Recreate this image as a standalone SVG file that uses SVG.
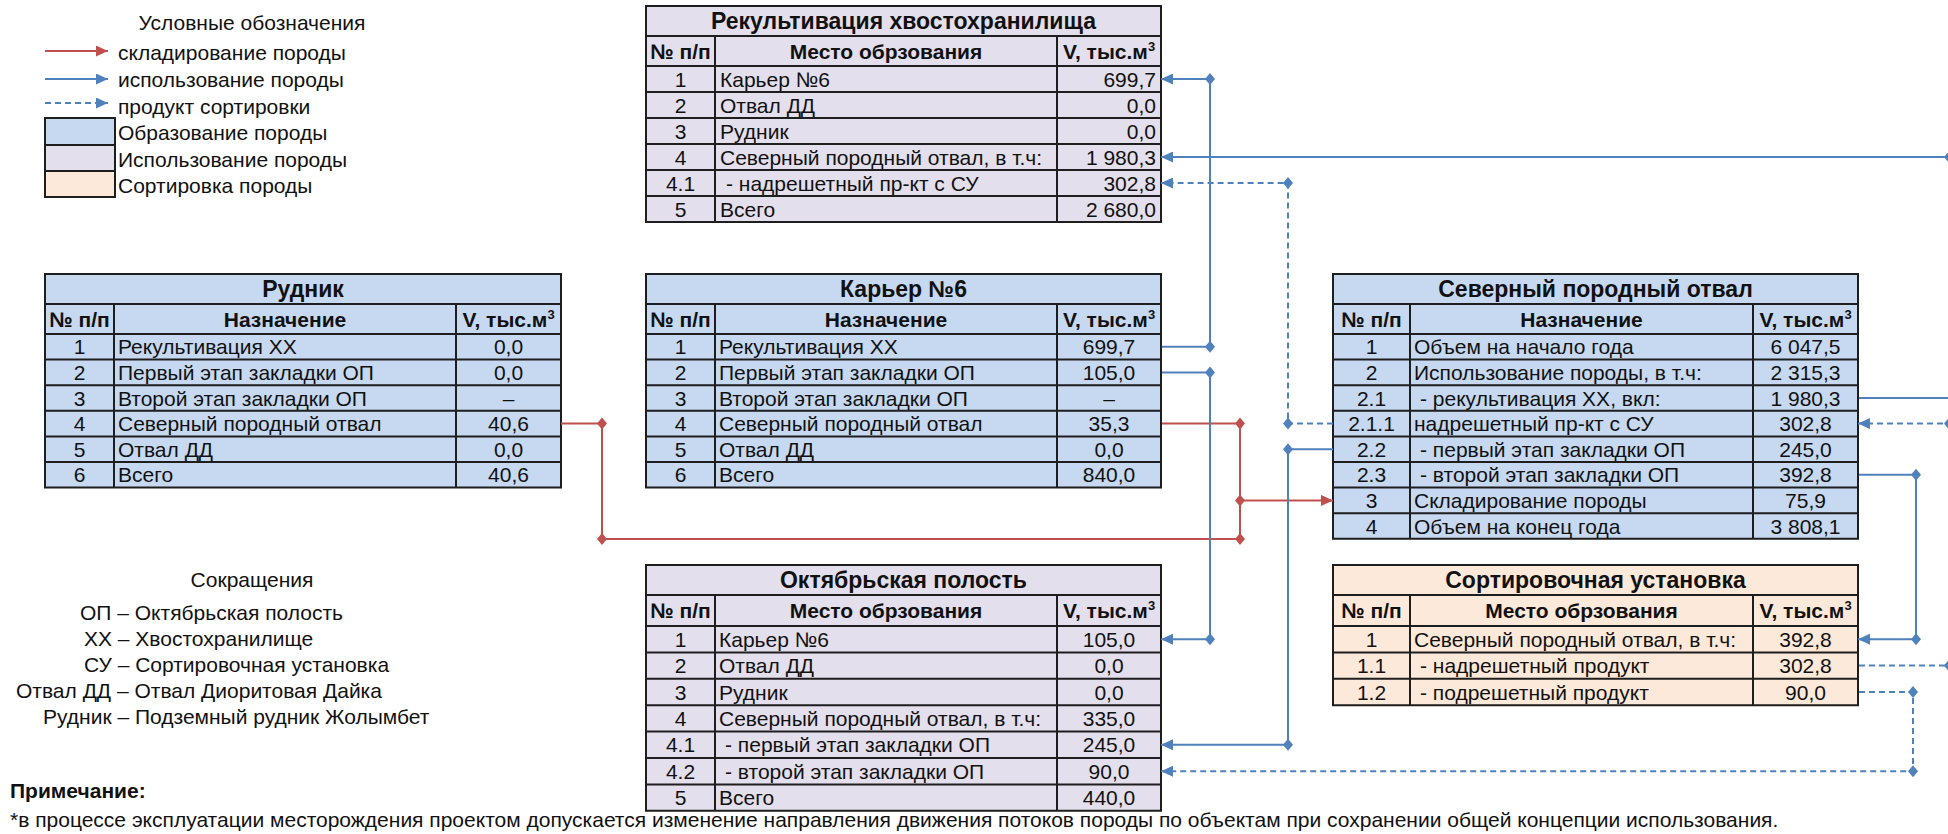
<svg xmlns="http://www.w3.org/2000/svg" xmlns:xlink="http://www.w3.org/1999/xlink" width="1948" height="834" viewBox="0 0 1948 834">
<style>
.t{font-family:"Liberation Sans",Arial,sans-serif;font-size:21px;fill:#111}
.b{font-weight:bold}
.c{text-anchor:middle}
.r{text-anchor:end}
.ttl{font-size:23px}
.grid{stroke:#1e1e1e;stroke-width:2;fill:none}
.blue{fill:#C6D9F1}
.lav{fill:#E4DFEC}
.peach{fill:#FDE9D9}
.cb{stroke:#4F81BD;stroke-width:2;fill:none}
.cr{stroke:#C0504D;stroke-width:2;fill:none}
.dash{stroke-dasharray:6 4}
.sup{font-size:13px}
</style>
<defs>
<marker id="aB" viewBox="0 0 12 11" refX="12" refY="5.5" markerWidth="12" markerHeight="11" orient="auto" markerUnits="userSpaceOnUse"><path d="M0,0 L12,5.5 L0,11 Z" fill="#4F81BD"/></marker>
<marker id="aR" viewBox="0 0 12 11" refX="12" refY="5.5" markerWidth="12" markerHeight="11" orient="auto" markerUnits="userSpaceOnUse"><path d="M0,0 L12,5.5 L0,11 Z" fill="#C0504D"/></marker>
<path id="dB" d="M0,-6 L5,0 L0,6 L-5,0 Z" fill="#4F81BD"/>
<path id="dR" d="M0,-6 L5,0 L0,6 L-5,0 Z" fill="#C0504D"/>
</defs>
<rect width="1948" height="834" fill="#fff"/>

<g id="legend" class="t">
<text class="c" x="252" y="30">Условные обозначения</text>
<line class="cr" x1="45" y1="51" x2="108" y2="51" marker-end="url(#aR)"/>
<line class="cb" x1="45" y1="79" x2="108" y2="79" marker-end="url(#aB)"/>
<line class="cb dash" x1="45" y1="103" x2="108" y2="103" marker-end="url(#aB)"/>
<text x="118" y="60">складирование породы</text>
<text x="118" y="87">использование породы</text>
<text x="118" y="114">продукт сортировки</text>
<rect class="blue" x="45" y="118" width="70" height="27" stroke="#1e1e1e" stroke-width="2"/>
<rect class="lav" x="45" y="145" width="70" height="26" stroke="#1e1e1e" stroke-width="2"/>
<rect class="peach" x="45" y="171" width="70" height="26" stroke="#1e1e1e" stroke-width="2"/>
<text x="118" y="140">Образование породы</text>
<text x="118" y="167">Использование породы</text>
<text x="118" y="193">Сортировка породы</text>
</g>

<g id="abbrev" class="t">
<text class="c" x="252" y="587">Сокращения</text>
<text x="80" y="620">ОП – Октябрьская полость</text>
<text x="84" y="646">ХХ – Хвостохранилище</text>
<text x="84" y="672">СУ – Сортировочная установка</text>
<text x="16" y="698">Отвал ДД – Отвал Диоритовая Дайка</text>
<text x="43" y="724">Рудник – Подземный рудник Жолымбет</text>
</g>

<g id="note" class="t">
<text class="b" x="10" y="798">Примечание:</text>
<text x="10" y="827">*в процессе эксплуатации месторождения проектом допускается изменение направления движения потоков породы по объектам при сохранении общей концепции использования.</text>
</g>

<g id="t-rekult" class="t">
<rect class="lav" x="646" y="6" width="515" height="216"/>
<path class="grid" d="M646,6H1161V222H646Z M646,36H1161 M646,66H1161 M646,92H1161 M646,118H1161 M646,144H1161 M646,170H1161 M646,196H1161 M715,36V222 M1057,36V222"/>
<text class="b c ttl" x="903.5" y="29">Рекультивация хвостохранилища</text>
<text class="b c" x="680.5" y="58.5">№ п/п</text>
<text class="b c" x="886" y="58.5">Место обрзования</text>
<text class="b c" x="1109" y="58.5">V, тыс.м<tspan class="sup" dy="-8">3</tspan></text>
<g class="c"><text x="680.5" y="86.5">1</text><text x="680.5" y="112.5">2</text><text x="680.5" y="138.5">3</text><text x="680.5" y="164.5">4</text><text x="680.5" y="190.5">4.1</text><text x="680.5" y="216.5">5</text></g>
<text x="720" y="86.5">Карьер №6</text>
<text x="720" y="112.5">Отвал ДД</text>
<text x="720" y="138.5">Рудник</text>
<text x="720" y="164.5">Северный породный отвал, в т.ч:</text>
<text x="726" y="190.5">- надрешетный пр-кт с СУ</text>
<text x="720" y="216.5">Всего</text>
<g class="r"><text x="1156" y="86.5">699,7</text><text x="1156" y="112.5">0,0</text><text x="1156" y="138.5">0,0</text><text x="1156" y="164.5">1 980,3</text><text x="1156" y="190.5">302,8</text><text x="1156" y="216.5">2 680,0</text></g>
</g>

<g id="t-rudnik" class="t">
<rect class="blue" x="45" y="274" width="516" height="213.6"/>
<path class="grid" d="M45,274H561V487.6H45Z M45,304H561 M45,334H561 M45,359.6H561 M45,385.2H561 M45,410.8H561 M45,436.4H561 M45,462H561 M114,304V487.6 M456,304V487.6"/>
<text class="b c ttl" x="303" y="297">Рудник</text>
<text class="b c" x="79.5" y="326.5">№ п/п</text>
<text class="b c" x="285" y="326.5">Назначение</text>
<text class="b c" x="508.5" y="326.5">V, тыс.м<tspan class="sup" dy="-8">3</tspan></text>
<g class="c"><text x="79.5" y="354.3">1</text><text x="79.5" y="379.9">2</text><text x="79.5" y="405.5">3</text><text x="79.5" y="431.1">4</text><text x="79.5" y="456.7">5</text><text x="79.5" y="482.3">6</text></g>
<text x="118" y="354.3">Рекультивация ХХ</text>
<text x="118" y="379.9">Первый этап закладки ОП</text>
<text x="118" y="405.5">Второй этап закладки ОП</text>
<text x="118" y="431.1">Северный породный отвал</text>
<text x="118" y="456.7">Отвал ДД</text>
<text x="118" y="482.3">Всего</text>
<g class="c"><text x="508.5" y="354.3">0,0</text><text x="508.5" y="379.9">0,0</text><text x="508.5" y="405.5">–</text><text x="508.5" y="431.1">40,6</text><text x="508.5" y="456.7">0,0</text><text x="508.5" y="482.3">40,6</text></g>
</g>

<g id="t-karier" class="t">
<rect class="blue" x="646" y="274" width="515" height="213.6"/>
<path class="grid" d="M646,274H1161V487.6H646Z M646,304H1161 M646,334H1161 M646,359.6H1161 M646,385.2H1161 M646,410.8H1161 M646,436.4H1161 M646,462H1161 M715,304V487.6 M1057,304V487.6"/>
<text class="b c ttl" x="903.5" y="297">Карьер №6</text>
<text class="b c" x="680.5" y="326.5">№ п/п</text>
<text class="b c" x="886" y="326.5">Назначение</text>
<text class="b c" x="1109" y="326.5">V, тыс.м<tspan class="sup" dy="-8">3</tspan></text>
<g class="c"><text x="680.5" y="354.3">1</text><text x="680.5" y="379.9">2</text><text x="680.5" y="405.5">3</text><text x="680.5" y="431.1">4</text><text x="680.5" y="456.7">5</text><text x="680.5" y="482.3">6</text></g>
<text x="719" y="354.3">Рекультивация ХХ</text>
<text x="719" y="379.9">Первый этап закладки ОП</text>
<text x="719" y="405.5">Второй этап закладки ОП</text>
<text x="719" y="431.1">Северный породный отвал</text>
<text x="719" y="456.7">Отвал ДД</text>
<text x="719" y="482.3">Всего</text>
<g class="c"><text x="1109" y="354.3">699,7</text><text x="1109" y="379.9">105,0</text><text x="1109" y="405.5">–</text><text x="1109" y="431.1">35,3</text><text x="1109" y="456.7">0,0</text><text x="1109" y="482.3">840,0</text></g>
</g>

<g id="t-sever" class="t">
<rect class="blue" x="1333" y="274" width="525" height="264.8"/>
<path class="grid" d="M1333,274H1858V538.8H1333Z M1333,304H1858 M1333,334H1858 M1333,359.6H1858 M1333,385.2H1858 M1333,410.8H1858 M1333,436.4H1858 M1333,462H1858 M1333,487.6H1858 M1333,513.2H1858 M1410,304V538.8 M1753,304V538.8"/>
<text class="b c ttl" x="1595.5" y="297">Северный породный отвал</text>
<text class="b c" x="1371.5" y="326.5">№ п/п</text>
<text class="b c" x="1581.5" y="326.5">Назначение</text>
<text class="b c" x="1805.5" y="326.5">V, тыс.м<tspan class="sup" dy="-8">3</tspan></text>
<g class="c"><text x="1371.5" y="354.3">1</text><text x="1371.5" y="379.9">2</text><text x="1371.5" y="405.5">2.1</text><text x="1371.5" y="431.1">2.1.1</text><text x="1371.5" y="456.7">2.2</text><text x="1371.5" y="482.3">2.3</text><text x="1371.5" y="507.9">3</text><text x="1371.5" y="533.5">4</text></g>
<text x="1414" y="354.3">Объем на начало года</text>
<text x="1414" y="379.9">Использование породы, в т.ч:</text>
<text x="1420" y="405.5">- рекультивация ХХ, вкл:</text>
<text x="1414" y="431.1">надрешетный пр-кт с СУ</text>
<text x="1420" y="456.7">- первый этап закладки ОП</text>
<text x="1420" y="482.3">- второй этап закладки ОП</text>
<text x="1414" y="507.9">Складирование породы</text>
<text x="1414" y="533.5">Объем на конец года</text>
<g class="c"><text x="1805.5" y="354.3">6 047,5</text><text x="1805.5" y="379.9">2 315,3</text><text x="1805.5" y="405.5">1 980,3</text><text x="1805.5" y="431.1">302,8</text><text x="1805.5" y="456.7">245,0</text><text x="1805.5" y="482.3">392,8</text><text x="1805.5" y="507.9">75,9</text><text x="1805.5" y="533.5">3 808,1</text></g>
</g>

<g id="t-oktyabr" class="t">
<rect class="lav" x="646" y="565" width="515" height="245.8"/>
<path class="grid" d="M646,565H1161V810.8H646Z M646,595H1161 M646,626H1161 M646,652.4H1161 M646,678.8H1161 M646,705.2H1161 M646,731.6H1161 M646,758H1161 M646,784.4H1161 M715,595V810.8 M1057,595V810.8"/>
<text class="b c ttl" x="903.5" y="588">Октябрьская полость</text>
<text class="b c" x="680.5" y="618">№ п/п</text>
<text class="b c" x="886" y="618">Место обрзования</text>
<text class="b c" x="1109" y="618">V, тыс.м<tspan class="sup" dy="-8">3</tspan></text>
<g class="c"><text x="680.5" y="646.7">1</text><text x="680.5" y="673.1">2</text><text x="680.5" y="699.5">3</text><text x="680.5" y="725.9">4</text><text x="680.5" y="752.3">4.1</text><text x="680.5" y="778.7">4.2</text><text x="680.5" y="805.1">5</text></g>
<text x="719" y="646.7">Карьер №6</text>
<text x="719" y="673.1">Отвал ДД</text>
<text x="719" y="699.5">Рудник</text>
<text x="719" y="725.9">Северный породный отвал, в т.ч:</text>
<text x="725" y="752.3">- первый этап закладки ОП</text>
<text x="725" y="778.7">- второй этап закладки ОП</text>
<text x="719" y="805.1">Всего</text>
<g class="c"><text x="1109" y="646.7">105,0</text><text x="1109" y="673.1">0,0</text><text x="1109" y="699.5">0,0</text><text x="1109" y="725.9">335,0</text><text x="1109" y="752.3">245,0</text><text x="1109" y="778.7">90,0</text><text x="1109" y="805.1">440,0</text></g>
</g>

<g id="t-sort" class="t">
<rect class="peach" x="1333" y="565" width="525" height="140.2"/>
<path class="grid" d="M1333,565H1858V705.2H1333Z M1333,595H1858 M1333,626H1858 M1333,652.4H1858 M1333,678.8H1858 M1410,595V705.2 M1753,595V705.2"/>
<text class="b c ttl" x="1595.5" y="588">Сортировочная установка</text>
<text class="b c" x="1371.5" y="618">№ п/п</text>
<text class="b c" x="1581.5" y="618">Место обрзования</text>
<text class="b c" x="1805.5" y="618">V, тыс.м<tspan class="sup" dy="-8">3</tspan></text>
<g class="c"><text x="1371.5" y="646.7">1</text><text x="1371.5" y="673.1">1.1</text><text x="1371.5" y="699.5">1.2</text></g>
<text x="1414" y="646.7">Северный породный отвал, в т.ч:</text>
<text x="1420" y="673.1">- надрешетный продукт</text>
<text x="1420" y="699.5">- подрешетный продукт</text>
<g class="c"><text x="1805.5" y="646.7">392,8</text><text x="1805.5" y="673.1">302,8</text><text x="1805.5" y="699.5">90,0</text></g>
</g>

<g id="connectors">
<path class="cr" d="M561,423.6H602V539H1240"/>
<path class="cr" d="M1162,423.6H1240V539"/>
<path class="cr" d="M1240,500.4H1333" marker-end="url(#aR)"/>
<path class="cb" d="M1162,346.8H1210V79H1161" marker-end="url(#aB)"/>
<path class="cb" d="M1162,372.4H1210V639.2H1161" marker-end="url(#aB)"/>
<path class="cb" d="M1859,398H1955V157H1161" marker-end="url(#aB)"/>
<path class="cb" d="M1333,449.2H1288V744.8H1161" marker-end="url(#aB)"/>
<path class="cb" d="M1859,474.8H1916V639.2H1858" marker-end="url(#aB)"/>
<path class="cb dash" d="M1333,423.6H1288V183H1161" marker-end="url(#aB)"/>
<path class="cb dash" d="M1859,665.6H1955V423.6H1858" marker-end="url(#aB)"/>
<path class="cb dash" d="M1859,692H1913V771.2H1161" marker-end="url(#aB)"/>
<use xlink:href="#dR" x="602" y="423.6"/>
<use xlink:href="#dR" x="602" y="539"/>
<use xlink:href="#dR" x="1240" y="539"/>
<use xlink:href="#dR" x="1240" y="423.6"/>
<use xlink:href="#dR" x="1240" y="500.4"/>
<use xlink:href="#dB" x="1210" y="346.8"/>
<use xlink:href="#dB" x="1210" y="79"/>
<use xlink:href="#dB" x="1210" y="372.4"/>
<use xlink:href="#dB" x="1210" y="639.2"/>
<use xlink:href="#dB" x="1949" y="157"/>
<use xlink:href="#dB" x="1288" y="449.2"/>
<use xlink:href="#dB" x="1288" y="744.8"/>
<use xlink:href="#dB" x="1916" y="474.8"/>
<use xlink:href="#dB" x="1916" y="639.2"/>
<use xlink:href="#dB" x="1288" y="423.6"/>
<use xlink:href="#dB" x="1288" y="183"/>
<use xlink:href="#dB" x="1949" y="665.6"/>
<use xlink:href="#dB" x="1949" y="423.6"/>
<use xlink:href="#dB" x="1913" y="692"/>
<use xlink:href="#dB" x="1913" y="771.2"/>
</g>
</svg>
